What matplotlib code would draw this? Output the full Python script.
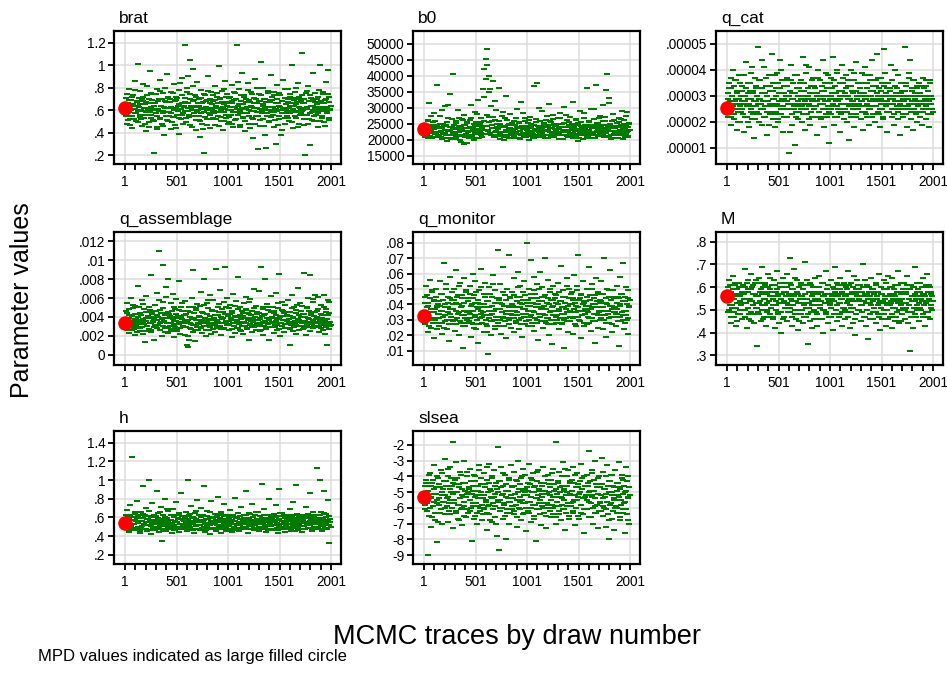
import numpy as np
import matplotlib
matplotlib.use("Agg")
import matplotlib.pyplot as plt
from matplotlib.ticker import FixedLocator

# ---------------------------------------------------------------------------
# Posterior draws: two interleaved thinned samples per parameter (a and b)
# ---------------------------------------------------------------------------
brat_a = [
    .62, .71, .55, .48, .66, .79, .58, .52, .69, .61, .44, .73, .64, .57, .86, .50, .67, .59, 1.01, .63,
    .54, .77, .60, .46, .68, .72, .53, .65, .41, .58, .81, .62, .49, .70, .95, .56, .63, .74, .51, .60,
    .22, .66, .57, .79, .45, .61, .70, .53, .87, .64, .48, .59, .75, .38, .62, .68, .55, .92, .71, .50,
    .58, .67, .43, .76, .62, .54, .83, .60, .47, .69, .72, .56, .64, .39, .78, .61, .52, .66, .89, .57,
    .63, 1.18, .71, .49, .80, .59, .66, .54, .74, 1.05, .62, .45, .68, .97, .57, .73, .51, .64, .85, .60,
    .55, .70, .36, .62, .78, .48, .67, .58, .22, .73, .63, .52, .69, .90, .57, .44, .66, .76, .60, .53,
    .68, .59, .81, .47, .64, .72, .55, .62, .99, .70, .50, .61, .77, .42, .65, .58, .86, .53, .67, .74,
    .60, .49, .71, .63, .56, .82, .66, .45, .69, .58, .75, .52, 1.18, .64, .61, .79, .47, .57, .68, .93,
    .54, .65, .73, .41, .62, .70, .57, .84, .60, .48, .67, .76, .53, .63, .35, .71, .59, .88, .55, .66,
    .62, .25, .74, .51, .68, 1.03, .57, .64, .80, .46, .70, .60, .26, .55, .77, .63, .49, .67, .91, .58,
    .69, .56, .45, .73, .61, .30, .82, .59, .66, .52, .75, .63, .38, .68, .57, .87, .62, .48, .71, .60,
    .55, .67, .79, .50, .64, .72, .58, 1.00, .61, .44, .69, .76, .53, .65, .59, .84, .48, .70, .62, .57,
    .73, 1.11, .60, .47, .66, .20, .75, .56, .63, .81, .52, .68, .29, .71, .58, .64, .93, .50, .67, .61,
    .56, .70, .62, .45, .78, 1.00, .59, .66, .53, .74, .61, .49, .69, .85, .57, .63, .96, .51, .72, .60,
]
brat_b = [
    .58, .66, .74, .51, .63, .69, .47, .60, .72, .55, .65, .52, .78, .61, .57, .68, .49, .64, .71, .56,
    .65, .52, .70, .59, .83, .62, .48, .67, .56, .73, .60, .45, .66, .58, .75, .53, .69, .61, .50, .64,
    .61, .74, .55, .43, .68, .59, .77, .52, .64, .70, .57, .46, .63, .80, .58, .67, .51, .62, .72, .55,
    .70, .57, .63, .49, .75, .60, .54, .68, .62, .44, .71, .59, .65, .53, .84, .61, .56, .73, .48, .64,
    .59, .67, .53, .76, .62, .90, .56, .70, .47, .64, .60, .81, .55, .69, .63, .42, .72, .58, .66, .51,
    .64, .50, .71, .57, .66, .43, .61, .74, .54, .68, .60, .47, .77, .62, .56, .70, .52, .65, .59, .73,
    .57, .69, .62, .52, .75, .58, .66, .46, .71, .60, .54, .67, .63, .79, .50, .61, .72, .56, .64, .48,
    .66, .54, .72, .60, .48, .68, .58, .76, .63, .51, .70, .61, .56, .85, .65, .45, .59, .73, .62, .53,
    .61, .72, .50, .67, .57, .63, .78, .55, .69, .44, .64, .59, .74, .52, .66, .62, .48, .70, .58, .80,
    .55, .68, .61, .46, .73, .59, .65, .52, .70, .62, .38, .67, .57, .75, .63, .50, .69, .60, .54, .72,
    .63, .58, .76, .51, .66, .61, .70, .47, .64, .55, .73, .60, .68, .42, .62, .57, .79, .53, .65, .59,
    .70, .53, .62, .74, .57, .66, .49, .71, .60, .64, .55, .80, .58, .67, .45, .63, .72, .56, .61, .68,
    .59, .66, .52, .70, .62, .56, .77, .61, .48, .68, .57, .73, .64, .51, .69, .60, .55, .75, .63, .58,
    .65, .57, .72, .60, .50, .68, .63, .55, .76, .59, .66, .46, .70, .62, .58, .74, .53, .67, .61, .64,
]

# b0 in thousands
b0_a_thousands = [
    22.1, 24.3, 20.8, 23.5, 21.6, 26.2, 22.9, 31.5, 21.2, 24.8, 23.1, 20.5, 25.6, 22.4, 28.3, 21.8, 23.9, 37.2, 22.6, 20.9,
    24.1, 21.5, 27.4, 22.8, 20.3, 23.7, 25.1, 21.9, 30.6, 22.3, 24.6, 19.8, 23.2, 26.8, 21.4, 22.7, 34.2, 20.6, 24.0, 22.5,
    40.5, 21.7, 23.8, 20.2, 25.9, 22.6, 29.5, 21.1, 24.4, 22.9, 19.5, 26.5, 23.3, 21.6, 27.9, 18.6, 24.7, 22.0, 25.3, 21.3,
    23.6, 20.7, 26.1, 22.8, 30.9, 21.5, 24.2, 23.0, 20.1, 28.7, 22.4, 25.5, 21.9, 32.6, 23.4, 20.6, 24.9, 22.2, 26.7, 21.0,
    35.8, 23.1, 42.0, 21.8, 45.3, 24.5, 48.3, 22.7, 40.1, 27.1, 36.0, 21.4, 25.8, 23.6, 38.5, 20.8, 26.3, 22.5, 29.2, 24.0,
    21.2, 23.8, 36.1, 20.4, 25.0, 22.6, 27.6, 21.7, 24.3, 19.9, 26.9, 22.9, 33.8, 21.1, 24.6, 23.3, 20.5, 28.1, 22.1, 25.4,
    23.0, 21.4, 26.0, 20.7, 24.8, 22.5, 29.8, 21.9, 23.7, 25.7, 20.3, 22.8, 31.9, 24.2, 21.6, 23.5, 20.9, 27.0, 22.3, 24.5,
    21.8, 25.2, 22.7, 20.1, 27.3, 23.9, 21.3, 24.7, 22.0, 36.8, 20.6, 23.4, 26.4, 21.7, 37.7, 22.9, 24.1, 20.8, 25.8, 23.2,
    22.4, 29.0, 21.2, 24.6, 23.1, 20.5, 26.2, 22.8, 24.3, 21.5, 31.3, 23.6, 20.9, 25.5, 22.2, 27.8, 21.0, 24.9, 23.4, 21.9,
    24.4, 22.1, 26.7, 20.4, 23.8, 28.4, 21.6, 25.1, 22.6, 20.2, 24.0, 30.2, 23.0, 21.4, 26.1, 22.7, 20.8, 24.7, 27.2, 22.3,
    21.7, 23.5, 20.6, 32.0, 24.2, 22.9, 21.1, 26.6, 23.3, 19.6, 25.4, 22.0, 28.9, 21.8, 24.5, 23.7, 20.3, 26.9, 22.6, 24.8,
    23.1, 21.0, 36.2, 22.4, 25.7, 20.7, 24.0, 29.6, 21.5, 23.9, 22.2, 26.4, 20.5, 24.6, 37.0, 22.8, 21.3, 25.2, 23.4, 27.5,
    22.0, 24.7, 21.6, 30.8, 23.2, 20.9, 26.0, 35.5, 22.5, 40.5, 24.3, 21.2, 33.2, 23.7, 20.4, 25.9, 22.9, 28.2, 21.8, 24.1,
    23.6, 21.4, 25.3, 22.2, 20.6, 27.0, 23.9, 21.7, 24.8, 29.1, 22.4, 20.2, 26.3, 23.0, 21.9, 24.5, 28.6, 22.7, 20.8, 25.0,
]
b0_b_thousands = [
    23.0, 21.6, 24.5, 22.3, 20.7, 25.8, 22.8, 21.3, 23.9, 27.5, 22.1, 24.2, 20.9, 23.4, 26.0, 21.8, 22.6, 24.8, 21.1, 23.7,
    22.4, 25.1, 21.0, 23.6, 29.3, 22.0, 24.4, 20.6, 23.1, 21.7, 25.5, 22.9, 31.0, 21.4, 24.0, 22.7, 20.4, 26.6, 23.3, 21.9,
    24.6, 22.2, 20.8, 25.2, 23.5, 21.5, 27.0, 22.6, 20.0, 24.1, 23.2, 21.2, 26.3, 22.9, 24.8, 21.0, 23.7, 19.2, 25.6, 22.4,
    21.7, 24.0, 22.9, 26.8, 21.3, 23.4, 20.5, 25.0, 22.1, 24.6, 21.8, 28.0, 23.0, 20.7, 24.3, 22.5, 21.4, 25.7, 23.8, 22.0,
    26.0, 33.5, 24.4, 39.0, 27.8, 43.5, 23.1, 35.0, 25.5, 22.3, 30.5, 24.8, 21.6, 27.2, 23.7, 20.9, 32.3, 22.8, 25.1, 21.5,
    23.4, 25.9, 22.0, 24.7, 21.2, 23.9, 22.6, 28.8, 20.8, 24.2, 23.0, 21.5, 26.2, 22.4, 24.9, 20.6, 23.6, 22.1, 25.3, 21.8,
    22.7, 24.6, 21.1, 23.3, 26.7, 22.0, 24.0, 20.5, 25.2, 22.9, 23.8, 21.6, 24.5, 22.2, 28.4, 21.3, 23.5, 25.8, 20.8, 23.0,
    24.2, 22.5, 26.3, 21.4, 23.6, 25.0, 22.1, 20.7, 24.8, 22.9, 21.5, 25.6, 23.3, 20.9, 24.4, 22.6, 30.0, 21.8, 23.9, 22.3,
    23.7, 21.1, 25.4, 22.8, 24.1, 21.6, 27.4, 23.2, 20.6, 24.6, 22.4, 25.9, 21.3, 23.8, 22.0, 26.5, 20.8, 24.3, 22.7, 21.5,
    22.2, 24.9, 21.8, 23.5, 26.9, 22.6, 20.4, 24.2, 23.1, 21.7, 25.3, 22.9, 27.7, 21.2, 23.9, 22.4, 25.6, 20.9, 24.5, 23.0,
    25.0, 22.3, 23.6, 21.0, 24.7, 22.8, 26.2, 21.6, 23.3, 24.9, 20.7, 22.5, 25.7, 23.0, 21.4, 24.3, 22.1, 28.5, 23.7, 21.9,
    22.9, 24.4, 21.3, 26.0, 23.2, 22.0, 24.8, 20.6, 23.8, 22.4, 29.8, 21.7, 24.0, 22.6, 25.4, 21.1, 23.5, 26.7, 22.2, 24.6,
    24.0, 22.5, 25.8, 21.4, 23.6, 27.3, 22.1, 24.7, 20.8, 23.2, 31.5, 22.7, 25.1, 21.6, 24.4, 22.9, 20.5, 23.9, 26.1, 22.3,
    21.9, 24.3, 22.8, 20.7, 25.5, 23.1, 22.4, 26.4, 21.5, 23.8, 22.1, 24.9, 20.9, 23.4, 27.6, 22.6, 24.1, 21.3, 25.2, 23.0,
]

# q_cat in units of 1e-5
q_cat_a_e5 = [
    2.6, 3.1, 2.2, 3.5, 2.8, 1.9, 3.3, 2.5, 4.0, 2.7, 2.1, 3.6, 2.9, 1.7, 3.2, 2.4, 3.8, 2.6, 2.0, 3.0,
    2.8, 3.4, 2.3, 1.6, 3.0, 2.7, 4.3, 2.2, 3.5, 2.9, 1.8, 3.2, 2.5, 3.9, 2.1, 3.1, 2.6, 1.4, 3.7, 2.8,
    3.3, 2.4, 4.9, 2.9, 2.0, 3.6, 2.7, 1.9, 3.1, 2.5, 4.1, 2.8, 2.2, 3.4, 1.5, 3.0, 2.6, 3.8, 2.3, 3.2,
    2.7, 4.6, 2.1, 3.5, 2.9, 1.8, 3.3, 2.4, 3.9, 2.6, 2.0, 3.1, 4.4, 2.8, 2.3, 3.6, 1.6, 2.9, 3.4, 2.5,
    3.0, 2.2, 3.7, 2.7, 0.8, 3.2, 2.5, 4.2, 2.9, 1.9, 3.5, 2.6, 1.1, 3.1, 2.4, 3.8, 2.8, 2.1, 3.3, 2.7,
    2.5, 3.6, 2.0, 4.5, 2.9, 3.2, 1.7, 2.7, 3.9, 2.3, 3.0, 2.6, 4.1, 1.9, 3.4, 2.8, 2.2, 3.7, 2.5, 3.1,
    3.3, 2.6, 1.5, 3.0, 4.0, 2.4, 2.9, 3.6, 2.1, 3.2, 2.7, 4.4, 1.8, 3.5, 2.5, 3.0, 2.2, 3.8, 2.8, 1.2,
    2.9, 3.7, 2.3, 3.1, 4.5, 2.6, 1.9, 3.4, 2.8, 2.2, 3.9, 2.5, 3.2, 1.6, 3.0, 2.7, 4.2, 2.4, 3.5, 2.1,
    3.1, 2.5, 3.8, 2.0, 2.9, 3.4, 1.3, 2.7, 4.0, 2.3, 3.2, 2.8, 1.8, 3.6, 2.6, 4.3, 2.2, 3.0, 2.5, 3.5,
    2.7, 3.3, 2.1, 3.9, 2.8, 1.7, 3.1, 2.4, 4.1, 2.9, 2.2, 3.5, 2.6, 1.9, 3.8, 2.5, 3.0, 4.4, 2.3, 3.2,
    2.8, 2.0, 3.6, 2.6, 4.6, 3.0, 2.3, 3.3, 1.8, 2.9, 3.7, 2.5, 2.1, 3.4, 4.8, 2.7, 3.1, 1.6, 2.8, 3.5,
    2.4, 3.2, 2.9, 4.2, 2.2, 3.6, 2.7, 1.9, 3.0, 4.0, 2.5, 3.3, 2.1, 3.8, 2.6, 1.5, 3.1, 2.8, 3.5, 2.3,
    3.0, 2.6, 4.9, 2.3, 3.4, 1.8, 2.9, 3.7, 2.5, 4.4, 2.1, 3.2, 2.7, 1.7, 3.6, 2.4, 3.0, 2.8, 2.0, 3.3,
    2.6, 3.5, 2.2, 3.1, 2.8, 1.9, 3.7, 2.4, 3.0, 2.7, 2.1, 3.4, 2.5, 3.2, 1.8, 2.9, 3.6, 2.3, 2.7, 2.5,
]
q_cat_b_e5 = [
    2.9, 2.4, 3.3, 2.7, 3.7, 2.2, 3.0, 2.6, 3.4, 2.3, 2.8, 3.6, 2.5, 3.1, 2.0, 2.9, 3.5, 2.7, 2.4, 3.2,
    2.5, 3.0, 3.8, 2.2, 2.8, 3.3, 2.6, 2.0, 3.1, 2.7, 3.5, 2.4, 2.9, 4.1, 2.3, 3.2, 2.8, 2.1, 3.4, 2.6,
    3.0, 2.7, 2.3, 3.6, 2.9, 2.5, 3.3, 4.4, 2.8, 2.2, 3.1, 2.6, 3.7, 2.4, 3.0, 2.8, 1.9, 3.4, 2.7, 3.2,
    2.4, 3.2, 2.9, 2.6, 3.8, 2.3, 3.0, 2.7, 3.5, 2.1, 2.8, 3.3, 2.5, 4.0, 2.9, 2.6, 3.1, 2.2, 3.6, 2.8,
    2.8, 3.4, 2.5, 3.0, 1.6, 2.7, 3.6, 2.3, 3.1, 2.9, 2.5, 3.8, 2.7, 2.2, 3.3, 2.6, 3.0, 2.4, 3.5, 2.9,
    3.2, 2.6, 3.0, 2.3, 3.5, 2.8, 2.5, 4.2, 2.9, 3.3, 2.1, 2.7, 3.1, 2.4, 3.6, 2.6, 2.9, 3.4, 2.2, 2.8,
    2.6, 3.1, 2.8, 3.7, 2.4, 3.0, 2.7, 2.2, 3.4, 2.9, 2.5, 3.2, 2.8, 3.9, 2.3, 3.3, 2.6, 3.0, 2.4, 3.5,
    3.0, 2.5, 3.3, 2.7, 2.9, 3.6, 2.2, 3.1, 2.6, 4.0, 2.8, 2.4, 3.5, 2.9, 2.3, 3.2, 2.7, 3.7, 2.5, 3.0,
    2.7, 3.3, 2.4, 3.0, 3.6, 2.6, 2.9, 2.2, 3.4, 2.8, 3.1, 2.5, 3.9, 2.7, 3.2, 2.3, 2.9, 3.5, 2.6, 3.0,
    3.1, 2.8, 3.5, 2.4, 3.0, 2.6, 3.8, 2.9, 2.3, 3.3, 2.7, 3.0, 2.5, 3.6, 2.8, 3.2, 2.2, 2.9, 3.4, 2.6,
    2.9, 3.4, 2.6, 3.1, 2.4, 3.7, 2.8, 2.5, 3.2, 2.7, 3.5, 2.2, 3.0, 2.8, 3.9, 2.6, 3.3, 2.4, 3.0, 2.7,
    3.3, 2.7, 3.0, 2.5, 3.6, 2.9, 2.3, 3.4, 2.8, 3.1, 2.6, 3.8, 2.4, 3.0, 2.7, 3.5, 2.5, 3.2, 2.9, 2.2,
    2.8, 3.2, 2.5, 3.5, 2.9, 2.6, 3.9, 2.7, 3.0, 2.4, 3.3, 2.8, 3.6, 2.5, 3.1, 2.9, 2.3, 3.4, 2.7, 3.0,
    3.1, 2.7, 3.4, 2.4, 3.0, 2.8, 2.5, 3.3, 2.9, 3.6, 2.6, 3.0, 2.3, 3.2, 2.8, 3.5, 2.5, 3.0, 2.9, 2.4,
]

# q_assemblage in units of 1e-3
q_assemblage_a_e3 = [
    3.3, 4.6, 2.8, 5.5, 3.9, 2.3, 4.2, 3.1, 6.0, 3.6, 2.6, 4.9, 3.4, 2.1, 5.2, 3.8, 2.9, 7.3, 4.0, 3.2,
    2.5, 4.4, 3.7, 5.8, 2.2, 3.5, 4.8, 1.3, 3.9, 6.2, 3.0, 4.1, 2.7, 5.0, 3.3, 8.4, 2.4, 4.5, 3.6, 1.5,
    3.8, 5.3, 2.9, 4.2, 6.5, 3.1, 11.0, 2.6, 4.7, 3.5, 2.0, 5.6, 9.5, 3.9, 4.4, 2.8, 6.1, 3.4, 8.0, 2.3,
    4.3, 3.0, 5.5, 2.5, 4.0, 6.4, 3.6, 1.9, 4.8, 3.2, 5.9, 2.7, 4.1, 7.8, 3.5, 2.2, 5.1, 3.8, 4.6, 2.9,
    3.4, 5.7, 2.1, 4.3, 1.0, 3.7, 0.8, 5.0, 2.8, 4.5, 3.2, 6.0, 2.4, 9.0, 3.9, 1.4, 4.7, 3.1, 5.4, 2.6,
    4.0, 2.9, 5.2, 3.5, 6.6, 2.3, 4.4, 3.0, 8.0, 3.8, 2.0, 5.5, 3.3, 4.9, 2.6, 6.3, 3.7, 2.2, 4.6, 3.4,
    5.8, 3.1, 4.2, 2.4, 9.1, 3.6, 5.0, 2.8, 4.5, 6.8, 3.3, 2.1, 4.8, 3.9, 5.6, 2.7, 9.3, 3.5, 4.3, 6.0,
    3.2, 4.9, 2.6, 5.3, 3.8, 1.9, 4.4, 6.4, 3.0, 2.3, 4.1, 5.7, 3.6, 2.8, 8.2, 4.0, 3.3, 5.1, 2.5, 4.6,
    3.9, 2.2, 5.5, 3.4, 4.8, 6.1, 2.7, 3.7, 1.6, 4.3, 5.9, 3.1, 2.4, 4.6, 3.5, 7.0, 2.9, 4.0, 5.2, 3.3,
    4.5, 3.0, 6.7, 2.5, 3.8, 9.3, 3.4, 5.1, 2.1, 4.2, 8.0, 3.6, 2.7, 5.4, 3.2, 4.7, 1.5, 3.9, 6.2, 2.9,
    3.5, 5.0, 2.3, 4.4, 3.1, 6.5, 3.8, 2.6, 4.9, 3.3, 8.5, 2.0, 4.1, 5.6, 3.0, 4.6, 2.4, 3.7, 5.3, 3.2,
    4.2, 2.8, 5.8, 3.5, 1.0, 4.5, 3.1, 6.3, 2.5, 3.9, 5.1, 3.4, 2.2, 4.7, 3.0, 7.1, 3.7, 2.6, 5.5, 4.0,
    3.3, 5.2, 2.7, 4.3, 8.7, 3.6, 2.1, 4.9, 3.0, 6.0, 3.8, 2.5, 8.4, 4.4, 3.2, 5.6, 2.8, 4.1, 6.3, 3.5,
    2.9, 4.6, 3.4, 6.1, 2.4, 3.8, 5.3, 3.1, 4.2, 2.6, 6.3, 3.6, 2.2, 4.8, 1.0, 3.3, 5.8, 2.7, 4.4, 3.0,
]
q_assemblage_b_e3 = [
    3.7, 3.0, 4.4, 2.6, 3.9, 4.8, 3.2, 2.9, 4.1, 3.5, 5.3, 2.7, 3.8, 4.3, 3.1, 2.4, 4.0, 3.6, 5.0, 2.8,
    3.4, 4.2, 2.9, 3.8, 5.4, 3.2, 2.5, 4.5, 3.6, 3.0, 4.1, 2.7, 3.9, 4.7, 3.3, 2.6, 4.3, 3.5, 2.9, 4.0,
    3.1, 4.6, 3.7, 2.8, 4.0, 5.8, 3.4, 2.6, 4.4, 3.8, 3.0, 4.9, 3.6, 2.4, 4.2, 7.2, 3.3, 4.5, 2.9, 3.9,
    4.1, 3.4, 2.7, 4.6, 3.8, 3.1, 5.0, 2.9, 3.6, 4.3, 2.5, 3.9, 4.7, 3.2, 2.8, 4.0, 3.5, 5.5, 3.0, 4.2,
    3.6, 4.2, 2.9, 3.5, 2.0, 4.6, 1.6, 3.3, 4.0, 2.7, 3.8, 5.1, 3.1, 4.4, 2.6, 3.7, 4.9, 2.9, 3.4, 4.1,
    3.2, 4.0, 3.7, 2.8, 4.5, 3.4, 5.3, 3.0, 3.9, 2.6, 4.3, 3.6, 5.8, 3.1, 4.1, 2.9, 3.8, 4.7, 3.3, 2.7,
    3.9, 4.6, 3.2, 3.7, 2.9, 4.2, 3.5, 5.4, 3.0, 4.0, 2.7, 3.8, 4.5, 3.3, 2.8, 4.3, 3.6, 5.0, 3.1, 4.1,
    3.6, 3.1, 4.3, 3.9, 2.7, 4.6, 3.4, 3.0, 5.2, 3.7, 4.0, 2.8, 3.5, 4.8, 3.2, 2.6, 4.2, 3.8, 3.0, 4.4,
    4.1, 3.5, 3.0, 4.7, 3.3, 2.8, 4.4, 3.9, 5.6, 3.2, 3.6, 4.2, 2.9, 3.8, 4.9, 3.1, 3.7, 2.6, 4.3, 3.4,
    3.7, 4.4, 3.2, 3.9, 2.6, 4.1, 3.5, 4.8, 3.0, 3.6, 4.3, 2.8, 3.9, 3.3, 5.1, 3.7, 2.9, 4.5, 3.4, 4.0,
    3.3, 3.9, 4.6, 2.9, 3.6, 4.2, 3.1, 5.5, 3.8, 2.7, 4.0, 3.4, 4.7, 3.0, 3.7, 4.4, 3.2, 2.8, 4.1, 3.6,
    4.5, 3.2, 3.8, 4.1, 2.7, 3.5, 4.9, 3.3, 4.0, 2.9, 3.6, 4.4, 3.1, 5.3, 3.8, 2.6, 4.2, 3.5, 3.0, 4.6,
    3.0, 4.3, 3.6, 2.8, 4.0, 3.4, 5.1, 3.1, 3.9, 4.6, 2.9, 3.5, 4.2, 3.2, 5.9, 3.7, 3.0, 4.5, 3.3, 3.8,
    4.0, 3.3, 4.8, 3.0, 3.6, 4.3, 2.8, 3.9, 3.4, 5.0, 3.1, 3.7, 4.5, 2.9, 3.8, 4.2, 3.2, 5.6, 3.5, 3.1,
]

q_monitor_a = [
    .033, .045, .027, .052, .038, .022, .041, .030, .056, .035, .025, .048, .031, .043, .018, .037, .050, .028, .039, .034,
    .042, .026, .055, .036, .021, .047, .032, .067, .029, .040, .053, .024, .038, .045, .016, .034, .058, .030, .043, .027,
    .037, .050, .023, .041, .062, .031, .046, .020, .035, .054, .028, .039, .044, .012, .033, .057, .026, .048, .036, .030,
    .044, .029, .052, .034, .019, .040, .060, .027, .046, .032, .055, .024, .038, .041, .015, .049, .031, .036, .063, .028,
    .035, .047, .022, .054, .030, .042, .026, .008, .038, .051, .033, .020, .045, .029, .059, .036, .024, .049, .032, .041,
    .075, .028, .043, .037, .053, .021, .040, .031, .064, .026, .046, .034, .018, .050, .039, .072, .030, .044, .025, .036,
    .048, .033, .022, .057, .038, .029, .045, .035, .061, .024, .041, .052, .031, .019, .043, .037, .055, .027, .046, .034,
    .080, .039, .026, .050, .032, .069, .044, .028, .036, .058, .023, .047, .040, .030, .053, .017, .042, .034, .061, .029,
    .038, .051, .025, .045, .033, .070, .028, .041, .056, .031, .020, .048, .036, .043, .014, .039, .052, .027, .044, .032,
    .046, .030, .054, .037, .024, .042, .065, .034, .027, .049, .038, .012, .045, .031, .057, .035, .022, .050, .040, .029,
    .035, .048, .021, .043, .059, .032, .039, .026, .052, .036, .072, .030, .044, .018, .047, .033, .055, .028, .041, .037,
    .042, .027, .050, .035, .064, .031, .046, .023, .038, .053, .029, .044, .015, .040, .057, .034, .048, .025, .036, .043,
    .031, .055, .038, .024, .047, .070, .033, .041, .019, .050, .036, .028, .045, .062, .032, .039, .022, .049, .035, .044,
    .038, .026, .052, .034, .045, .013, .040, .058, .029, .047, .033, .067, .024, .042, .036, .051, .030, .044, .021, .039,
]
q_monitor_b = [
    .036, .041, .029, .046, .033, .039, .026, .044, .031, .037, .049, .028, .042, .035, .030, .045, .038, .024, .040, .034,
    .031, .039, .047, .028, .036, .043, .025, .038, .033, .050, .030, .041, .035, .027, .044, .037, .032, .048, .029, .040,
    .043, .030, .036, .027, .045, .034, .040, .052, .029, .038, .033, .046, .026, .041, .036, .031, .049, .035, .028, .042,
    .035, .047, .031, .039, .028, .044, .036, .025, .041, .033, .048, .030, .037, .043, .027, .040, .034, .051, .032, .038,
    .040, .033, .045, .027, .038, .022, .042, .031, .036, .047, .029, .039, .034, .053, .030, .041, .026, .037, .044, .032,
    .037, .044, .030, .041, .026, .035, .048, .032, .039, .029, .043, .036, .050, .031, .038, .027, .045, .034, .040, .033,
    .039, .031, .046, .036, .028, .042, .033, .051, .030, .038, .045, .027, .040, .034, .048, .032, .037, .043, .029, .041,
    .036, .043, .030, .039, .047, .033, .026, .041, .035, .049, .031, .038, .044, .028, .040, .034, .050, .032, .037, .045,
    .042, .034, .039, .029, .046, .037, .031, .044, .027, .040, .035, .050, .030, .038, .043, .033, .036, .047, .028, .041,
    .033, .040, .036, .048, .031, .042, .028, .038, .045, .034, .030, .041, .037, .052, .029, .039, .044, .032, .036, .047,
    .040, .031, .044, .037, .027, .041, .035, .049, .032, .038, .043, .029, .036, .046, .033, .040, .026, .042, .034, .039,
    .036, .045, .032, .039, .028, .043, .037, .050, .031, .040, .034, .046, .029, .038, .042, .033, .047, .035, .030, .041,
    .042, .033, .038, .047, .030, .036, .044, .028, .040, .034, .049, .031, .039, .043, .027, .037, .045, .032, .038, .035,
    .034, .041, .037, .029, .044, .032, .039, .047, .035, .030, .042, .036, .028, .045, .033, .040, .049, .031, .038, .043,
]

M_a = [
    .55, .60, .49, .63, .52, .44, .58, .51, .65, .47, .56, .61, .43, .53, .59, .48, .62, .54, .50, .57,
    .53, .46, .61, .57, .68, .50, .55, .42, .59, .63, .48, .54, .66, .45, .60, .52, .57, .44, .62, .51,
    .56, .34, .49, .64, .53, .58, .45, .69, .52, .60, .47, .55, .62, .43, .57, .50, .66, .54, .48, .59,
    .51, .61, .46, .55, .63, .42, .58, .52, .67, .49, .56, .44, .60, .53, .40, .57, .64, .47, .54, .62,
    .58, .45, .66, .52, .56, .73, .49, .61, .54, .43, .59, .68, .50, .57, .46, .63, .53, .41, .60, .55,
    .48, .62, .56, .44, .59, .52, .71, .47, .55, .63, .35, .51, .58, .45, .61, .54, .42, .57, .50, .64,
    .55, .49, .60, .43, .57, .65, .52, .46, .58, .62, .50, .40, .56, .53, .67, .48, .59, .44, .61, .54,
    .52, .63, .47, .56, .41, .59, .54, .69, .50, .57, .45, .61, .53, .48, .64, .55, .43, .58, .51, .62,
    .57, .46, .60, .53, .67, .49, .55, .42, .62, .51, .58, .44, .65, .54, .39, .59, .48, .56, .61, .50,
    .54, .61, .45, .58, .52, .70, .47, .56, .63, .43, .57, .50, .37, .60, .53, .46, .64, .55, .49, .59,
    .51, .58, .44, .62, .55, .48, .66, .53, .41, .57, .60, .46, .54, .63, .50, .56, .43, .59, .52, .65,
    .56, .47, .60, .53, .42, .64, .51, .57, .45, .61, .54, .49, .67, .55, .44, .58, .52, .62, .48, .57,
    .53, .62, .46, .57, .51, .65, .44, .59, .55, .32, .61, .49, .56, .42, .60, .54, .69, .47, .58, .52,
    .59, .45, .56, .62, .50, .54, .64, .47, .57, .43, .60, .53, .66, .49, .55, .61, .46, .58, .51, .56,
]
M_b = [
    .54, .58, .50, .61, .47, .56, .52, .59, .49, .55, .62, .51, .57, .45, .53, .60, .48, .56, .52, .58,
    .57, .50, .55, .60, .47, .53, .62, .51, .58, .46, .55, .59, .49, .54, .61, .52, .48, .57, .63, .53,
    .51, .56, .62, .48, .54, .59, .50, .57, .46, .55, .61, .52, .58, .49, .53, .60, .47, .56, .64, .51,
    .58, .52, .47, .56, .61, .50, .54, .59, .48, .57, .53, .62, .49, .55, .60, .46, .53, .58, .51, .56,
    .53, .60, .49, .57, .51, .62, .55, .47, .59, .52, .56, .64, .48, .54, .58, .50, .57, .45, .55, .61,
    .56, .50, .59, .53, .47, .57, .61, .51, .55, .48, .58, .53, .62, .49, .56, .52, .60, .46, .54, .58,
    .52, .57, .48, .55, .60, .51, .58, .54, .46, .56, .62, .50, .57, .53, .49, .59, .55, .61, .47, .53,
    .57, .51, .55, .60, .48, .54, .58, .50, .62, .52, .56, .47, .59, .53, .57, .49, .55, .61, .51, .56,
    .50, .56, .59, .47, .54, .61, .52, .57, .49, .55, .60, .51, .58, .46, .54, .57, .63, .50, .55, .59,
    .58, .52, .56, .49, .60, .54, .47, .57, .53, .61, .50, .55, .58, .48, .56, .52, .59, .46, .54, .57,
    .55, .61, .49, .56, .52, .58, .47, .54, .60, .51, .57, .53, .48, .59, .55, .62, .50, .56, .46, .53,
    .52, .57, .54, .60, .48, .55, .59, .51, .56, .47, .58, .53, .61, .50, .54, .57, .45, .55, .59, .51,
    .57, .50, .58, .53, .61, .49, .55, .52, .59, .47, .56, .54, .60, .51, .57, .48, .55, .62, .50, .56,
    .53, .58, .51, .55, .60, .48, .57, .52, .56, .61, .49, .54, .58, .47, .55, .60, .52, .57, .50, .54,
]

h_a = [
    .55, .62, .47, .68, .52, .58, .44, .73, .50, .60, 1.25, .53, .46, .64, .57, .49, .78, .54, .61, .48,
    .56, .43, .66, .51, .59, .94, .47, .63, .55, .70, .45, .58, 1.00, .52, .61, .42, .56, .75, .49, .57,
    .60, .46, .54, .88, .50, .65, .44, .58, .52, .71, .35, .56, .62, .48, .80, .53, .45, .59, .51, .67,
    .54, .47, .63, .57, .43, .69, .52, .60, .46, .76, .55, .49, .58, .64, .44, .53, .86, .50, .61, .57,
    .48, .59, .52, .66, .45, .56, 1.00, .62, .50, .54, .72, .47, .60, .53, .43, .65, .51, .58, .79, .55,
    .52, .63, .46, .57, .70, .49, .55, .94, .61, .44, .58, .51, .67, .47, .54, .60, .42, .77, .53, .56,
    .59, .48, .64, .53, .45, .61, .56, .82, .50, .58, .43, .66, .52, .57, .47, .74, .54, .62, .49, .55,
    .51, .60, .46, .68, .54, .57, .44, .63, .50, .81, .56, .48, .59, .53, .65, .45, .58, .52, .71, .55,
    .57, .47, .62, .54, .88, .50, .59, .43, .65, .53, .56, .48, .74, .51, .60, .46, .55, .63, .49, .58,
    .53, .66, .45, .57, .61, .50, .96, .54, .48, .69, .52, .59, .44, .56, .62, .47, .80, .55, .51, .60,
    .58, .46, .64, .52, .55, .73, .49, .61, .43, .57, .90, .53, .47, .65, .56, .50, .62, .44, .59, .54,
    .50, .62, .47, .58, .69, .53, .45, .60, .55, .76, .49, .57, .95, .52, .64, .46, .56, .61, .48, .55,
    .56, .44, .63, .51, .59, .47, .71, .54, .61, .49, .55, .86, .52, .58, .45, .66, .53, .60, .48, .57,
    .54, 1.13, .48, .62, .57, 1.00, .51, .66, .45, .59, .53, .88, .49, .64, .56, .47, .79, .52, .32, .58,
]
h_b = [
    .52, .58, .48, .61, .55, .46, .63, .51, .57, .49, .60, .53, .66, .47, .56, .59, .50, .54, .62, .45,
    .59, .50, .56, .64, .47, .53, .61, .55, .48, .58, .52, .67, .46, .57, .51, .60, .54, .49, .63, .56,
    .53, .61, .47, .56, .59, .50, .66, .54, .48, .57, .62, .45, .55, .60, .51, .58, .69, .49, .56, .52,
    .57, .49, .62, .54, .51, .60, .46, .56, .63, .50, .55, .59, .47, .65, .53, .58, .48, .61, .52, .56,
    .50, .57, .54, .61, .47, .58, .52, .64, .49, .56, .60, .53, .46, .59, .55, .67, .51, .57, .48, .62,
    .56, .52, .60, .48, .55, .63, .50, .57, .53, .46, .61, .54, .58, .49, .66, .52, .56, .59, .47, .55,
    .54, .60, .49, .57, .52, .62, .47, .55, .59, .51, .64, .48, .56, .53, .61, .50, .58, .45, .57, .53,
    .58, .51, .55, .63, .48, .57, .53, .60, .46, .56, .59, .52, .65, .49, .55, .61, .47, .54, .58, .50,
    .53, .59, .50, .56, .62, .48, .55, .58, .51, .64, .47, .57, .53, .60, .49, .56, .52, .66, .48, .55,
    .57, .50, .61, .54, .47, .59, .53, .56, .63, .49, .55, .58, .51, .62, .46, .57, .54, .60, .52, .48,
    .55, .62, .48, .57, .52, .60, .54, .46, .58, .51, .65, .53, .56, .49, .61, .55, .47, .59, .52, .57,
    .60, .49, .56, .53, .58, .47, .62, .54, .51, .57, .45, .59, .55, .63, .50, .56, .53, .60, .48, .58,
    .51, .57, .54, .61, .48, .55, .59, .52, .64, .49, .56, .53, .60, .47, .57, .62, .50, .55, .58, .53,
    .56, .50, .59, .53, .62, .48, .55, .58, .51, .57, .65, .49, .54, .60, .47, .56, .52, .61, .55, .50,
]

slsea_a = [
    -5.3, -4.6, -6.1, -4.2, -5.7, -9.0, -4.9, -6.5, -3.8, -5.4, -7.2, -4.4, -5.9, -3.3, -5.1, -6.8, -4.7, -5.5, -8.2, -4.1,
    -5.8, -4.5, -6.3, -3.6, -5.2, -7.0, -4.8, -5.6, -2.9, -6.0, -4.3, -5.4, -6.9, -4.0, -5.7, -3.4, -6.4, -5.0, -4.6, -7.3,
    -1.8, -5.5, -4.2, -6.2, -3.1, -5.0, -6.7, -4.5, -5.8, -3.7, -6.1, -4.8, -7.1, -5.3, -3.0, -5.9, -4.4, -6.6, -5.1, -4.0,
    -6.3, -4.7, -5.5, -3.5, -6.0, -8.1, -4.9, -5.7, -3.9, -6.5, -4.3, -5.2, -7.0, -4.6, -5.9, -3.3, -6.2, -5.0, -4.1, -6.8,
    -5.4, -3.8, -6.1, -4.5, -5.6, -7.4, -4.2, -5.9, -3.2, -6.4, -4.8, -5.3, -6.9, -4.0, -5.7, -3.6, -6.6, -5.1, -4.4, -7.8,
    -2.1, -5.5, -8.7, -4.3, -6.0, -3.4, -5.2, -6.7, -4.6, -5.8, -3.9, -8.0, -4.9, -6.3, -5.4, -4.1, -7.0, -5.6, -3.3, -6.1,
    -4.7, -5.9, -3.7, -6.4, -5.1, -4.2, -7.2, -5.5, -3.0, -6.0, -4.5, -5.3, -6.8, -4.0, -5.7, -3.5, -6.3, -4.8, -5.0, -7.5,
    -5.2, -4.4, -6.2, -3.2, -5.6, -4.1, -6.9, -5.0, -3.8, -6.5, -4.7, -5.8, -8.1, -4.3, -5.4, -3.6, -6.1, -4.9, -5.5, -7.1,
    -4.6, -5.9, -3.4, -6.3, -5.1, -4.0, -7.3, -5.7, -3.9, -6.0, -4.5, -5.2, -6.6, -4.2, -5.8, -3.5, -6.4, -4.9, -5.3, -7.0,
    -1.8, -5.6, -4.3, -6.2, -3.7, -5.0, -6.8, -4.6, -5.4, -3.1, -6.1, -4.8, -7.4, -5.2, -4.0, -5.9, -3.6, -6.5, -5.1, -4.4,
    -5.7, -4.2, -6.3, -3.4, -5.5, -7.1, -4.7, -6.0, -3.8, -5.3, -4.5, -6.7, -5.0, -3.2, -5.8, -4.1, -6.4, -5.4, -7.6, -4.6,
    -5.2, -3.9, -6.1, -4.4, -5.6, -2.4, -4.9, -6.6, -3.6, -5.3, -7.0, -4.2, -5.9, -3.0, -6.3, -4.7, -5.1, -7.3, -4.0, -5.7,
    -4.5, -6.2, -2.8, -5.4, -3.7, -6.0, -4.8, -7.2, -5.1, -3.3, -6.4, -8.0, -4.3, -5.8, -3.9, -6.7, -5.0, -4.6, -7.4, -5.5,
    -3.6, -5.9, -4.4, -6.3, -5.2, -3.1, -6.8, -4.7, -5.5, -3.9, -6.1, -4.2, -5.7, -7.6, -4.9, -3.4, -6.4, -5.3, -4.0, -7.0,
]
slsea_b = [
    -5.0, -5.8, -4.4, -6.2, -4.9, -5.5, -3.9, -6.0, -4.6, -5.3, -6.6, -4.2, -5.6, -4.8, -6.3, -5.1, -4.0, -5.7, -6.9, -4.5,
    -5.4, -4.7, -6.1, -5.0, -3.8, -5.6, -4.3, -6.4, -5.2, -4.6, -5.9, -3.5, -5.3, -6.2, -4.8, -5.5, -4.1, -6.0, -5.1, -4.4,
    -5.7, -4.5, -6.3, -5.0, -4.1, -5.8, -6.8, -4.7, -5.4, -3.9, -6.0, -5.2, -4.4, -5.6, -6.5, -4.9, -5.3, -3.7, -6.1, -5.0,
    -4.8, -5.5, -6.2, -4.3, -5.1, -5.9, -4.6, -6.7, -5.3, -4.0, -5.7, -6.3, -4.9, -5.4, -3.6, -6.0, -5.2, -4.5, -5.8, -6.4,
    -5.2, -6.0, -4.7, -5.5, -3.4, -6.3, -5.0, -4.4, -5.8, -6.8, -4.9, -5.4, -4.1, -6.1, -5.3, -4.6, -5.9, -7.0, -4.8, -5.6,
    -5.0, -4.3, -6.2, -5.5, -4.7, -6.0, -5.1, -3.8, -5.7, -6.5, -4.5, -5.3, -6.1, -4.9, -5.6, -4.2, -6.3, -5.2, -4.6, -5.9,
    -5.4, -6.2, -4.6, -5.1, -5.8, -4.3, -6.6, -5.0, -4.8, -5.6, -6.1, -4.1, -5.5, -4.9, -6.4, -5.2, -3.9, -5.7, -6.0, -4.7,
    -5.6, -4.9, -6.3, -4.5, -5.3, -6.0, -4.2, -5.8, -5.0, -6.7, -4.6, -5.4, -3.7, -6.1, -5.2, -4.8, -5.7, -6.4, -4.4, -5.1,
    -5.3, -6.0, -4.4, -5.7, -4.9, -6.5, -5.1, -4.2, -5.8, -5.0, -6.2, -4.7, -5.5, -3.8, -6.0, -5.3, -4.5, -5.9, -6.6, -4.8,
    -5.1, -4.4, -5.9, -6.4, -4.7, -5.3, -4.0, -5.8, -6.1, -4.9, -5.5, -3.5, -6.3, -5.0, -4.6, -5.7, -6.7, -4.3, -5.2, -5.9,
    -4.9, -5.6, -6.2, -4.4, -5.2, -3.9, -6.0, -5.5, -4.7, -6.5, -5.1, -4.3, -5.8, -6.3, -4.8, -5.4, -4.0, -6.1, -5.3, -4.6,
    -5.5, -6.1, -4.6, -5.0, -6.6, -4.3, -5.7, -5.2, -3.8, -6.0, -4.9, -5.4, -6.3, -4.5, -5.8, -5.1, -4.1, -6.2, -5.6, -4.7,
    -5.2, -4.5, -5.9, -6.5, -4.8, -5.3, -4.0, -6.1, -5.6, -4.6, -5.0, -6.8, -4.3, -5.7, -5.2, -3.9, -6.2, -5.4, -4.7, -6.0,
    -5.5, -4.9, -6.0, -4.4, -5.3, -6.6, -4.8, -5.8, -4.1, -5.1, -6.3, -4.6, -5.6, -5.0, -6.1, -4.3, -5.4, -6.8, -4.7, -5.2,
]

# Maximum posterior density estimates
param_names = ["brat", "b0", "q_cat", "q_assemblage", "q_monitor", "M", "h", "slsea"]
mpd_values = [0.615, 23400, 2.55e-5, 0.0033, 0.0325, 0.563, 0.54, -5.3]

traces = [
    (np.asarray(brat_a), np.asarray(brat_b)),
    (np.asarray(b0_a_thousands) * 1000.0, np.asarray(b0_b_thousands) * 1000.0),
    (np.asarray(q_cat_a_e5) * 1e-5, np.asarray(q_cat_b_e5) * 1e-5),
    (np.asarray(q_assemblage_a_e3) * 1e-3, np.asarray(q_assemblage_b_e3) * 1e-3),
    (np.asarray(q_monitor_a), np.asarray(q_monitor_b)),
    (np.asarray(M_a), np.asarray(M_b)),
    (np.asarray(h_a), np.asarray(h_b)),
    (np.asarray(slsea_a), np.asarray(slsea_b)),
]

y_ticks = [
    [.2, .4, .6, .8, 1.0, 1.2],
    [15000, 20000, 25000, 30000, 35000, 40000, 45000, 50000],
    [1e-5, 2e-5, 3e-5, 4e-5, 5e-5],
    [0, .002, .004, .006, .008, .010, .012],
    [.01, .02, .03, .04, .05, .06, .07, .08],
    [.3, .4, .5, .6, .7, .8],
    [.2, .4, .6, .8, 1.0, 1.2, 1.4],
    [-9, -8, -7, -6, -5, -4, -3, -2],
]
y_limits = [
    (0.12, 1.304),
    (12500, 54000),
    (0.38e-5, 5.5e-5),
    (-0.0011, 0.013),
    (0.0007, 0.0869),
    (0.257, 0.843),
    (0.10, 1.525),
    (-9.57, -1.11),
]
x_major = [1, 501, 1001, 1501, 2001]
x_minor = [v for v in range(101, 2001, 100) if v not in x_major]


def stata_label(v):
    """Format a tick value the way Stata does: no leading zero."""
    if float(v).is_integer():
        return str(int(v))
    s = f"{v:.10f}".rstrip("0").rstrip(".")
    if s.startswith("0."):
        s = s[1:]
    elif s.startswith("-0."):
        s = "-" + s[2:]
    return s


plt.rcParams["font.family"] = ["Liberation Sans", "DejaVu Sans"]

W, H = 947, 675
fig = plt.figure(figsize=(W / 100, H / 100), dpi=100)
fig.patch.set_facecolor("white")

col_left = [114, 413, 716]
row_top = [31, 232, 431]
ax_w, ax_h = 227, 133

green = "#007a00"
dash = [(-1, -0.45), (1, -0.45), (1, 0.45), (-1, 0.45), (-1, -0.45)]

for k, name in enumerate(param_names):
    r, c = divmod(k, 3)
    ax = fig.add_axes([col_left[c] / W, 1 - (row_top[r] + ax_h) / H, ax_w / W, ax_h / H])
    vals_a, vals_b = traces[k]
    draws_a = np.linspace(1, 1993, len(vals_a))
    draws_b = np.linspace(8, 2000, len(vals_b))
    for d, v in ((draws_a, vals_a), (draws_b, vals_b)):
        ax.plot(d, v, ls="none", marker=dash, ms=4.0, mew=0, color=green, zorder=3)
    ax.plot([1], [mpd_values[k]], ls="none", marker="o", ms=10.5, mew=0, color="#ff0000", zorder=5)

    ax.set_xlim(-106, 2098)
    ax.set_ylim(*y_limits[k])
    ax.xaxis.set_major_locator(FixedLocator(x_major))
    ax.xaxis.set_minor_locator(FixedLocator(x_minor))
    ax.set_xticklabels([str(v) for v in x_major])
    ax.set_yticks(y_ticks[k])
    ax.set_yticklabels([stata_label(v) for v in y_ticks[k]])

    ax.grid(True, which="major", color="#dcdcdc", lw=1.1)
    ax.set_axisbelow(True)
    for sp in ax.spines.values():
        sp.set_linewidth(1.6)
        sp.set_color("black")
    ax.tick_params(which="both", direction="out", length=4.2, width=1.3, color="black")
    ax.tick_params(axis="x", which="major", labelsize=9.8, pad=3.5)
    ax.tick_params(axis="y", which="major", labelsize=9.8, pad=2)

    ax.text(5 / ax_w, 1 + 8 / ax_h, name, transform=ax.transAxes,
            ha="left", va="baseline", fontsize=12.5)

fig.text(22 / W, 1 - 300 / H, "Parameter values", rotation=90,
         ha="center", va="center", fontsize=18)
fig.text(517 / W, 1 - 637 / H, "MCMC traces by draw number",
         ha="center", va="center", fontsize=19.5)
fig.text(38 / W, 1 - 657 / H, "MPD values indicated as large filled circle",
         ha="left", va="center", fontsize=12)

fig.savefig("out.png", dpi=100, facecolor="white")
